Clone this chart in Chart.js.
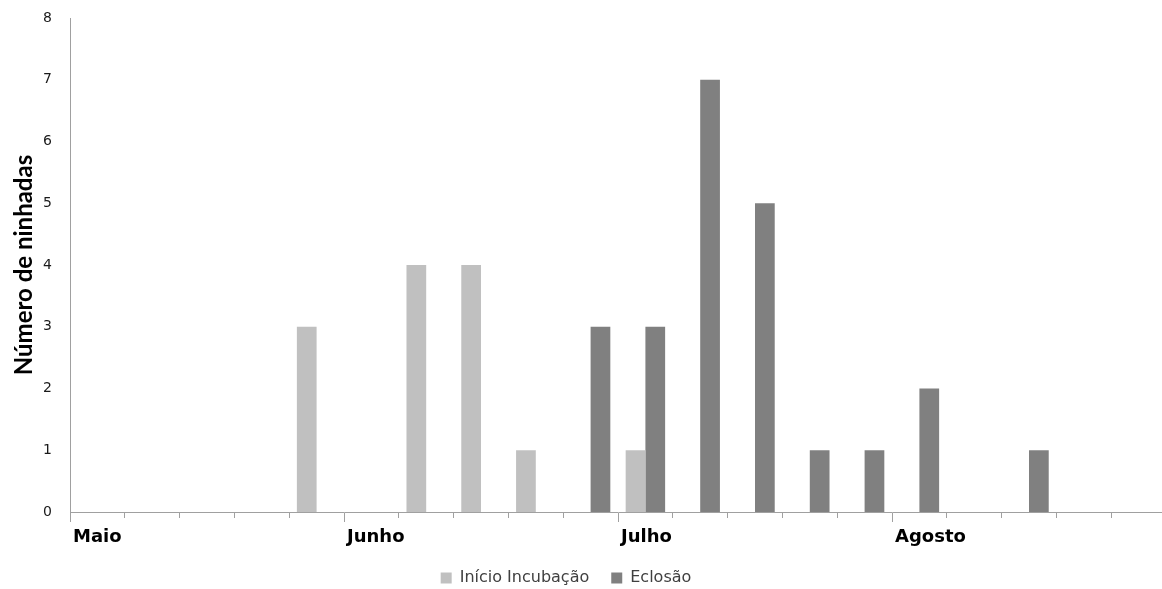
<!DOCTYPE html>
<html>
<head>
<meta charset="utf-8">
<script src="https://cdn.jsdelivr.net/npm/chart.js@4/dist/chart.umd.min.js"></script>
<style>
  html, body { margin: 0; padding: 0; background: #ffffff; overflow: hidden; }
  /* the plot runs slightly past the right edge of the window */
  #wrap { width: 1166px; height: 589px; position: relative; }
</style>
</head>
<body>
<div id="wrap"><canvas id="c"></canvas></div>
<script>
// Weekly periods, May to August; a month name marks the first week of each month
const categories = ['Maio', '', '', '', '', 'Junho', '', '', '', '', 'Julho', '', '', '', '', 'Agosto', '', '', '', ''];
const monthStarts = [0, 5, 10, 15];

// Number of clutches per week
const inicioIncubacao = [0, 0, 0, 0, 3, 0, 4, 4, 1, 0, 1, 0, 0, 0, 0, 0, 0, 0, 0, 0];
const eclosao         = [0, 0, 0, 0, 0, 0, 0, 0, 0, 3, 3, 7, 5, 1, 1, 2, 0, 1, 0, 0];

const yTicks = [0, 1, 2, 3, 4, 5, 6, 7, 8];

const seriesNames = ['Início Incubação', 'Eclosão'];
const seriesColors = ['#c0c0c0', '#808080'];

const FONT_TITLE = 'Lato, "Open Sans", sans-serif';
const FONT_TEXT = '"DejaVu Sans", Verdana, sans-serif';
const AXIS_GRAY = '#a0a0a0';

// Nudges the legend row a little to the left of the page centre
const legendShift = {
  id: 'legendShift',
  afterLayout(chart) {
    const lg = chart.legend;
    if (lg) { lg.left -= 17; lg.right -= 17; }
  }
};

new Chart(document.getElementById('c'), {
  type: 'bar',
  data: {
    labels: categories,
    datasets: [
      { label: seriesNames[0], data: inicioIncubacao, backgroundColor: seriesColors[0], borderWidth: 0 },
      { label: seriesNames[1], data: eclosao, backgroundColor: seriesColors[1], borderWidth: 0 }
    ]
  },
  plugins: [legendShift],
  options: {
    responsive: true,
    maintainAspectRatio: false,
    animation: false,
    datasets: { bar: { categoryPercentage: 0.72, barPercentage: 1.0 } },
    layout: { padding: { top: 18, right: 0, bottom: -7, left: 0 } },
    plugins: {
      tooltip: { enabled: false },
      legend: {
        position: 'bottom',
        align: 'center',
        labels: {
          boxWidth: 11,
          boxHeight: 11,
          padding: 22,
          color: '#404040',
          font: { family: FONT_TEXT, size: 16 }
        }
      }
    },
    scales: {
      x: {
        type: 'category',
        offset: true,
        grid: {
          offset: true,
          drawOnChartArea: false,
          drawTicks: true,
          tickLength: 10,
          tickColor: AXIS_GRAY,
          tickWidth: 1,
          // month boundaries get full-length tick marks, the rest short ones
          tickBorderDash: (ctx) => (ctx.index !== undefined && monthStarts.includes(ctx.index)) ? [] : [5, 100]
        },
        border: { display: true, color: AXIS_GRAY, width: 1 },
        ticks: {
          autoSkip: false,
          maxRotation: 0,
          minRotation: 0,
          align: 'start',
          labelOffset: -24.4,
          padding: 5,
          color: '#000000',
          font: { family: FONT_TEXT, size: 18, weight: 'bold' }
        },
        afterFit: (scale) => { scale.height = 36; }
      },
      y: {
        min: 0,
        max: 8,
        afterBuildTicks: (scale) => { scale.ticks = yTicks.map(v => ({ value: v })); },
        grid: { display: false, drawTicks: false },
        border: { display: true, color: AXIS_GRAY, width: 1 },
        ticks: {
          padding: 18,
          color: '#1a1a1a',
          font: { family: FONT_TEXT, size: 14 }
        },
        title: {
          display: true,
          text: 'Número de ninhadas',
          color: '#000000',
          padding: { top: 10, bottom: 0 },
          font: { family: FONT_TITLE, size: 24, weight: 'bold' }
        },
        afterFit: (scale) => {
          scale.width = 70;
          scale.paddingTop = 0;
          scale.paddingBottom = 0;
        }
      }
    }
  }
});
</script>
</body>
</html>
